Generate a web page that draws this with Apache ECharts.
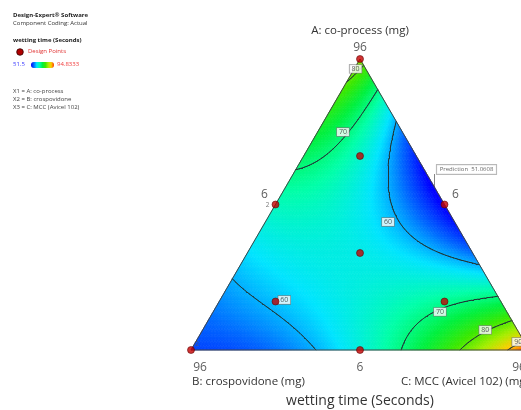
<!DOCTYPE html>
<html>
<head>
<meta charset="utf-8">
<script src="https://cdn.jsdelivr.net/npm/echarts@6/dist/echarts.min.js"></script>
<style>
html,body{margin:0;padding:0;background:#fff}
#main{width:521px;height:410px}
</style>
</head>
<body>
<div id="main"></div>
<script>
// component order everywhere: A co-process (top), B crospovidone (left), C MCC (right)
var componentNames = ['A: co-process (mg)', 'B: crospovidone (mg)', 'C: MCC (Avicel 102) (mg)'];
var highLabels = ['96', '96', '96'];
var lowLabels = ['6', '6', '6'];
var responseName = 'wetting time (Seconds)';

// special cubic mixture model (pseudo components)
var linearCoef = [83, 55, 95];          // A, B, C
var pairCoef = [-10, -151.76, -42];     // AB, AC, BC
var tripleCoef = 236;                   // ABC

var designPoints = [
	[1, 0, 0], [0, 1, 0], [0, 0, 1],
	[0.5, 0.5, 0], [0.5, 0, 0.5], [0, 0.5, 0.5],
	[1/3, 1/3, 1/3],
	[2/3, 1/6, 1/6], [1/6, 2/3, 1/6], [1/6, 1/6, 2/3]
];
var replicatedPoints = [[0.5, 0.5, 0], [0, 1, 0]];
var contourLevels = [60, 70, 80, 90];
// [level, A, B, C] where each contour label sits
var contourLabels = [
	[80, 0.966, 0.03, 0.004],
	[70, 0.749, 0.176, 0.075],
	[60, 0.44, 0.197, 0.363],
	[60, 0.172, 0.638, 0.19],
	[70, 0.131, 0.198, 0.671],
	[80, 0.069, 0.095, 0.836],
	[90, 0.028, 0.018, 0.954]
];
var predictionPoint = [0.5, 0, 0.5];
var predictionValue = '51.0608';
var colorMin = 51.5;
var colorMax = 94.8333;
var colorRamp = ['#0000ff', '#0068ff', '#00e4ff', '#00ffa8', '#00f040', '#3ce800', '#a4ee00', '#ffcc00', '#ff3c00'];

var N = 120;
var font = 'Open Sans';

function model(a, b, c)
{
	return linearCoef[0]*a + linearCoef[1]*b + linearCoef[2]*c
		+ pairCoef[0]*a*b + pairCoef[1]*a*c + pairCoef[2]*b*c
		+ tripleCoef*a*b*c;
}
function toXY(p)
{
	var s = p[0] + p[1] + p[2];
	return [(p[2] + p[0]/2)/s, p[0]/s];
}
function nodeXY(i, j)
{
	return [j/N + i/(2*N), i/N];
}

// values on the mesh nodes (i = A steps, j = C steps)
var nodeVal = [];
for (var i = 0; i <= N; i++) {
	nodeVal[i] = [];
	for (var j = 0; j <= N - i; j++) {
		nodeVal[i][j] = model(i/N, (N-i-j)/N, j/N);
	}
}

// small triangles: [i, j, orientation, value]
var cells = [];
var tris = [];
for (var i = 0; i < N; i++) {
	for (var j = 0; j < N - i; j++) {
		var a = (i + 1/3)/N, c = (j + 1/3)/N;
		cells.push([i, j, 0, model(a, 1-a-c, c)]);
		tris.push([[i, j], [i, j+1], [i+1, j]]);
		if (i + j + 2 <= N) {
			a = (i + 2/3)/N; c = (j + 2/3)/N;
			cells.push([i, j, 1, model(a, 1-a-c, c)]);
			tris.push([[i+1, j], [i, j+1], [i+1, j+1]]);
		}
	}
}

// contour segments by marching triangles
var contourSegs = [];
for (var t = 0; t < tris.length; t++) {
	var tr = tris[t];
	var v = tr.map(function(p){ return nodeVal[p[0]][p[1]]; });
	var xy = tr.map(function(p){ return nodeXY(p[0], p[1]); });
	for (var l = 0; l < contourLevels.length; l++) {
		var L = contourLevels[l];
		var pts = [];
		for (var e = 0; e < 3; e++) {
			var p = e, q = (e + 1) % 3;
			if ((v[p] - L) * (v[q] - L) < 0) {
				var f = (L - v[p]) / (v[q] - v[p]);
				pts.push([xy[p][0] + f*(xy[q][0]-xy[p][0]), xy[p][1] + f*(xy[q][1]-xy[p][1])]);
			}
		}
		if (pts.length == 2) contourSegs.push({coords: pts});
	}
}

var chart = echarts.init(document.getElementById('main'));
var option = {
	animation: false,
	backgroundColor: '#fff',
	grid: {left: 191, top: 59, width: 338, height: 291, outerBoundsMode: 'none', containLabel: false},
	xAxis: {type: 'value', min: 0, max: 1, show: false},
	yAxis: {type: 'value', min: 0, max: 1, show: false},
	visualMap: {
		type: 'continuous',
		seriesIndex: 0,
		dimension: 3,
		min: colorMin,
		max: colorMax,
		orient: 'horizontal',
		left: 31,
		top: 62,
		itemWidth: 6,
		itemHeight: 23,
		padding: 0,
		text: ['', ''],
		calculable: false,
		hoverLink: false,
		inRange: {color: colorRamp}
	},
	graphic: [
		{type: 'text', left: 13, top: 12, style: {text: 'Design-Expert\u00ae Software', font: 'bold 6px "' + font + '"', fill: '#222'}},
		{type: 'text', left: 13, top: 20, style: {text: 'Component Coding: Actual', font: '6px "' + font + '"', fill: '#333'}},
		{type: 'text', left: 13, top: 37, style: {text: responseName, font: 'bold 6px "' + font + '"', fill: '#222'}},
		{type: 'circle', shape: {cx: 20, cy: 52, r: 3.3}, style: {fill: '#b00000', stroke: '#300', lineWidth: 0.8}},
		{type: 'text', left: 28, top: 48, style: {text: 'Design Points', font: '6px "' + font + '"', fill: '#e03030'}},
		{type: 'text', left: 13, top: 61, style: {text: String(colorMin), font: '6px "' + font + '"', fill: '#3a3aff'}},
		{type: 'text', left: 57, top: 61, style: {text: String(colorMax), font: '6px "' + font + '"', fill: '#f03a3a'}},
		{type: 'text', left: 13, top: 88, style: {text: 'X1 = ' + componentNames[0].replace(' (mg)', ''), font: '6px "' + font + '"', fill: '#444'}},
		{type: 'text', left: 13, top: 96, style: {text: 'X2 = ' + componentNames[1].replace(' (mg)', ''), font: '6px "' + font + '"', fill: '#444'}},
		{type: 'text', left: 13, top: 104, style: {text: 'X3 = ' + componentNames[2].replace(' (mg)', ''), font: '6px "' + font + '"', fill: '#444'}},
		{type: 'text', x: 360, y: 31, style: {text: componentNames[0], font: '11.5px "' + font + '"', fill: '#333', align: 'center', verticalAlign: 'middle'}},
		{type: 'text', x: 192, y: 382, style: {text: componentNames[1], font: '11.5px "' + font + '"', fill: '#333', align: 'left', verticalAlign: 'middle'}},
		{type: 'text', x: 529, y: 382, style: {text: componentNames[2], font: '11.5px "' + font + '"', fill: '#333', align: 'right', verticalAlign: 'middle'}},
		{type: 'text', x: 360, y: 401, style: {text: responseName, font: '14px "' + font + '"', fill: '#333', align: 'center', verticalAlign: 'middle'}},
		{type: 'line', shape: {x1: 434.5, y1: 174, x2: 434.5, y2: 188}, style: {stroke: '#666', lineWidth: 0.8}}
	],
	series: [
		{
			type: 'custom',
			coordinateSystem: 'cartesian2d',
			silent: true,
			progressive: 0,
			clip: false,
			z: 1,
			data: cells,
			renderItem: function(params, api) {
				var i = api.value(0), j = api.value(1), k = api.value(2);
				var corners = k === 0 ? [[i, j], [i, j+1], [i+1, j]] : [[i+1, j], [i, j+1], [i+1, j+1]];
				var poly = corners.map(function(p){ return api.coord(nodeXY(p[0], p[1])); });
				var color = api.visual('color');
				return {type: 'polygon', shape: {points: poly}, style: {fill: color, stroke: color, lineWidth: 0.7}};
			}
		},
		{
			type: 'lines',
			coordinateSystem: 'cartesian2d',
			silent: true,
			z: 2,
			data: contourSegs,
			lineStyle: {color: '#203838', width: 1, opacity: 1, cap: 'round'}
		},
		{
			type: 'line',
			silent: true,
			z: 3,
			symbol: 'none',
			clip: false,
			data: [toXY([0,1,0]), toXY([0,0,1]), toXY([1,0,0]), toXY([0,1,0])],
			lineStyle: {color: '#444', width: 1}
		},
		{
			type: 'scatter',
			silent: true,
			clip: false,
			z: 4,
			data: contourLabels.map(function(d){ return {value: toXY([d[1], d[2], d[3]]), name: String(d[0])}; }),
			symbolSize: 1,
			itemStyle: {color: 'transparent'},
			label: {
				show: true, position: 'inside', formatter: '{b}',
				fontFamily: font, fontSize: 7, color: '#333',
				backgroundColor: '#fff', borderColor: '#777', borderWidth: 0.7,
				padding: [1, 2, 0, 2]
			}
		},
		{
			type: 'scatter',
			silent: true,
			clip: false,
			z: 5,
			data: designPoints.map(toXY),
			symbolSize: 7,
			itemStyle: {color: '#c40000', borderColor: '#5a0000', borderWidth: 0.7}
		},
		{
			type: 'scatter',
			silent: true,
			z: 5,
			symbolSize: 1,
			itemStyle: {color: 'transparent'},
			data: [
				{value: toXY(replicatedPoints[0]), label: {offset: [-8, 1]}},
				{value: toXY(replicatedPoints[1]), label: {offset: [6, -6]}}
			],
			label: {show: true, position: 'inside', formatter: '2', fontFamily: font, fontSize: 6.5, color: '#555'}
		},
		{
			type: 'scatter',
			silent: true,
			z: 5,
			symbolSize: 1,
			itemStyle: {color: 'transparent'},
			data: [
				{value: toXY(predictionPoint)}
			],
			label: {
				show: true, position: 'inside', offset: [22, -35],
				formatter: 'Prediction  ' + predictionValue,
				fontFamily: font, fontSize: 6, color: '#444',
				backgroundColor: '#fff', borderColor: '#888', borderWidth: 0.7,
				padding: [2, 3, 1, 3]
			}
		},
		{
			type: 'scatter',
			silent: true,
			clip: false,
			z: 5,
			symbolSize: 1,
			itemStyle: {color: 'transparent'},
			data: [
				{value: toXY([1,0,0]), name: highLabels[0], label: {offset: [0, -11]}},
				{value: toXY([0,0.5,0.5]), name: lowLabels[0], label: {offset: [0, 18]}},
				{value: toXY([0,1,0]), name: highLabels[1], label: {offset: [9, 18]}},
				{value: toXY([0.5,0,0.5]), name: lowLabels[1], label: {offset: [11, -10]}},
				{value: toXY([0,0,1]), name: highLabels[2], label: {offset: [-10, 18]}},
				{value: toXY([0.5,0.5,0]), name: lowLabels[2], label: {offset: [-11, -10]}}
			],
			label: {show: true, position: 'inside', formatter: '{b}', fontFamily: font, fontSize: 12, color: '#333'}
		}
	]
};
chart.setOption(option);
</script>
</body>
</html>
